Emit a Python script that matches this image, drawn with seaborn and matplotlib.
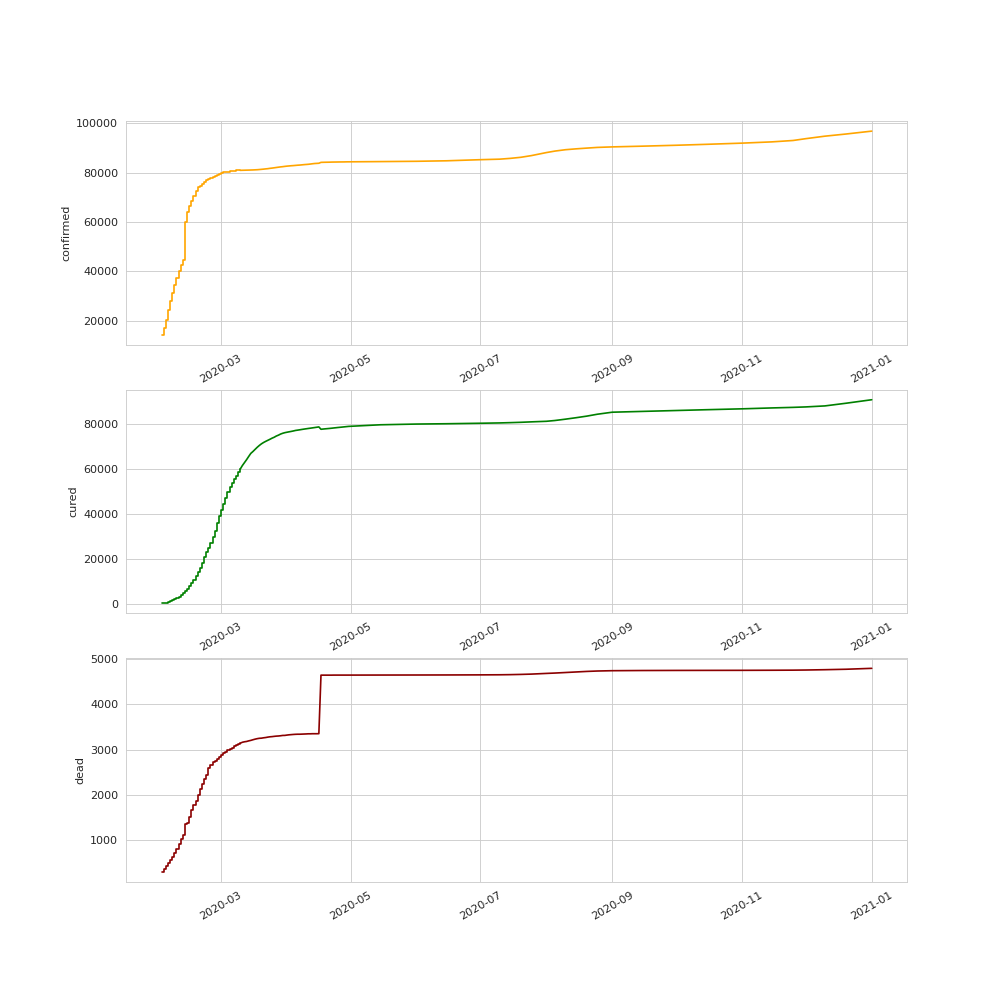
import matplotlib
matplotlib.use("Agg")
import matplotlib.pyplot as plt
import pandas as pd
import seaborn as sns

# ── Data ─────────────────────────────────────────────────────────────────────
# daily reports, Feb 2 - Apr 30 2020
DAILY_DATES = pd.date_range("2020-02-02", "2020-04-30", freq="D")
STEP_UNTIL = "2020-03-10"   # early reports look stair-like in the source

CONFIRMED_DAILY = [
    14410, 17237, 20473, 24362, 28060, 31209, 34598, 37254, 40233, 42708,
    44728, 59882, 63931, 66575, 68586, 70638, 72529, 74281, 74675, 75567,
    76395, 77046, 77264, 77777, 78190, 78629, 78962, 79395,
    79971, 80176, 80303, 80425, 80567, 80714, 80816, 80863, 80907, 80929,
    80955, 80978, 81008, 81029, 81059, 81087, 81131, 81174, 81248, 81332,
    81416, 81514, 81603, 81736, 81838, 81956, 82080, 82204, 82319, 82410,
    82528,
    82629, 82709, 82785, 82849, 82924, 83005, 83060, 83147, 83235, 83302,
    83370, 83477, 83592, 83689, 83743, 83796, 84151, 84181, 84201, 84217,
    84232, 84266, 84281, 84292, 84308, 84323, 84330, 84340, 84366, 84374,
]
CURED_DAILY = [
    330, 477, 634, 895, 1157, 1545, 2057, 2658, 3292, 4009,
    4755, 5928, 6742, 8117, 9442, 10870, 12580, 14406, 16188, 18300,
    20698, 22930, 24780, 27372, 29798, 32553, 36180, 39070,
    41698, 44540, 47288, 49945, 52140, 53825, 55510, 57175, 58715, 60018,
    61600, 62925, 64248, 65683, 67058, 67900, 68834, 69760, 70583, 71316,
    71910, 72418, 72880, 73340, 73838, 74245, 74790, 75180, 75665, 76015,
    76285,
    76480, 76665, 76845, 77040, 77270, 77410, 77560, 77720, 77870, 78010,
    78150, 78280, 78420, 78560, 78700, 78850, 77800, 77900, 77990, 78080,
    78170, 78270, 78380, 78480, 78590, 78680, 78780, 78880, 78980, 79080,
]
DEAD_DAILY = [
    304, 361, 425, 491, 564, 637, 723, 812, 909, 1017,
    1114, 1368, 1381, 1524, 1666, 1772, 1870, 2006, 2121, 2239,
    2348, 2445, 2595, 2666, 2718, 2747, 2791, 2838,
    2873, 2915, 2946, 2984, 3015, 3045, 3073, 3100, 3122, 3139,
    3161, 3172, 3179, 3192, 3203, 3217, 3230, 3241, 3249, 3252,
    3260, 3266, 3275, 3282, 3286, 3292, 3297, 3300, 3305, 3312,
    3313,
    3320, 3326, 3330, 3334, 3337, 3339, 3339, 3341, 3343, 3345,
    3348, 3348, 3350, 3350, 3350, 3351, 4642, 4642, 4642, 4642,
    4642, 4642, 4643, 4643, 4643, 4643, 4643, 4643, 4643, 4643,
]

# sparser readings for the rest of the year
LATE_DATES = pd.to_datetime([
    "2020-05-15", "2020-06-01", "2020-06-15", "2020-07-01",
    "2020-07-10", "2020-07-15", "2020-07-20", "2020-07-25", "2020-08-01",
    "2020-08-05", "2020-08-10", "2020-08-15", "2020-08-20", "2020-08-25",
    "2020-09-01", "2020-09-15", "2020-10-01", "2020-10-15", "2020-11-01",
    "2020-11-15", "2020-11-25", "2020-12-01", "2020-12-10", "2020-12-20",
    "2021-01-01",
])
CONFIRMED_LATE = [
    84470, 84590, 84790, 85240, 85450, 85770, 86210, 86900, 88120,
    88720, 89280, 89630, 89930, 90210, 90420, 90710, 91080, 91450, 91940,
    92450, 93010, 93750, 94760, 95640, 96800,
]
CURED_LATE = [
    79800, 80120, 80260, 80480, 80620, 80750, 80900, 81100, 81350,
    81700, 82300, 82950, 83650, 84500, 85400, 85750, 86150, 86500, 86900,
    87300, 87550, 87750, 88200, 89400, 90950,
]
DEAD_LATE = [
    4644, 4645, 4646, 4648, 4650, 4653, 4658, 4665, 4680,
    4688, 4700, 4712, 4724, 4733, 4740, 4744, 4746, 4747, 4748,
    4750, 4752, 4755, 4762, 4772, 4792,
]

SERIES = [
    ("confirmed", CONFIRMED_DAILY, CONFIRMED_LATE, "orange"),
    ("cured", CURED_DAILY, CURED_LATE, "green"),
    ("dead", DEAD_DAILY, DEAD_LATE, "darkred"),
]

# ── Plot ─────────────────────────────────────────────────────────────────────
sns.set_style("whitegrid")
fig, axes = plt.subplots(3, 1, figsize=(12.6, 12.6), dpi=80)
fig.subplots_adjust(left=0.125, right=0.9, top=0.88, bottom=0.125, hspace=0.2)

for ax, (name, daily, late, color) in zip(axes, SERIES):
    df = pd.concat([
        pd.DataFrame({"date": DAILY_DATES, name: daily}),
        pd.DataFrame({"date": LATE_DATES, name: late}),
    ], ignore_index=True)
    early = df[df["date"] <= STEP_UNTIL]
    rest = df[df["date"] >= STEP_UNTIL]
    sns.lineplot(data=early, x="date", y=name, color=color,
                 drawstyle="steps-post", ax=ax)
    sns.lineplot(data=rest, x="date", y=name, color=color, ax=ax)
    ax.set_xlabel("")
    ax.tick_params(axis="x", rotation=30)

fig.savefig("out.png")
